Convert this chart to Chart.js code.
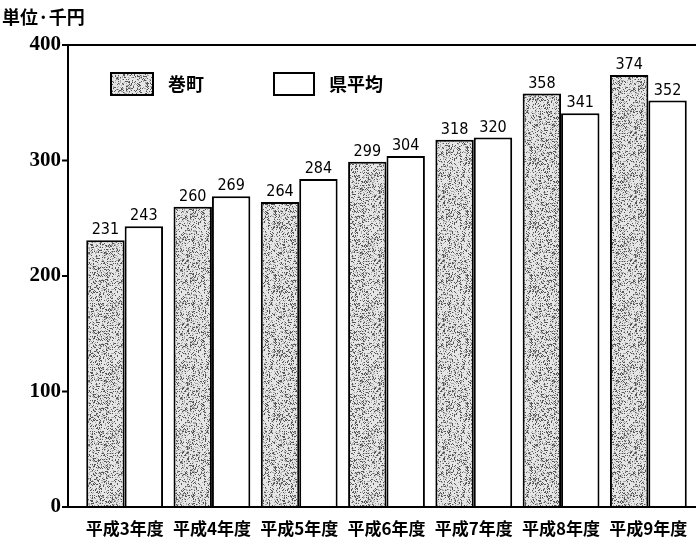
<!DOCTYPE html>
<html>
<head>
<meta charset="utf-8">
<script src="https://cdn.jsdelivr.net/npm/chart.js@4/dist/chart.umd.min.js"></script>
<style>
  body { margin: 0; background: #fff; }
  #wrap { width: 696px; height: 545px; }
</style>
</head>
<body>
<div id="wrap"><canvas id="grafica"></canvas></div>
<script>
const categories = ['平成3年度', '平成4年度', '平成5年度', '平成6年度', '平成7年度', '平成8年度', '平成9年度'];
const makiValues = [231, 260, 264, 299, 318, 358, 374];
const kenValues = [243, 269, 284, 304, 320, 341, 352];
const seriesNames = ['巻町', '県平均'];
const yTicks = [0, 100, 200, 300, 400];
const unitLabel = '単位·千円';

const jpFont = '"Noto Sans CJK JP", sans-serif';
const numFont = '"Liberation Serif", "DejaVu Serif", serif';
const narrowFont = '"DejaVu Sans", sans-serif';

// stipple texture for the 巻町 bars (fixed seed so it is the same every time)
function makeStipple() {
    const c = document.createElement('canvas');
    c.width = 64; c.height = 64;
    const g = c.getContext('2d');
    g.fillStyle = '#e6e6e6';
    g.fillRect(0, 0, 64, 64);
    let s = 12345;
    for (let y = 0; y < 64; y++) {
        for (let x = 0; x < 64; x++) {
            s = (s * 1103515245 + 12345) & 0x7fffffff;
            const r = s / 0x7fffffff;
            if (r < 0.17) { g.fillStyle = '#555'; g.fillRect(x, y, 1, 1); }
            else if (r < 0.33) { g.fillStyle = '#a8a8a8'; g.fillRect(x, y, 1, 1); }
        }
    }
    return g.createPattern(c, 'repeat');
}

const ctx = document.getElementById('grafica').getContext('2d');
const stipple = makeStipple();

// axes frame, unit label, legend and bar values
const decor = {
    id: 'decor',
    afterDraw(chart) {
        const c = chart.ctx;
        const y = chart.scales.y;
        const axisX = 68;
        c.save();
        c.strokeStyle = '#000';
        c.lineWidth = 2;
        c.beginPath();
        c.moveTo(axisX, y.getPixelForValue(400));
        c.lineTo(696, y.getPixelForValue(400));
        c.moveTo(axisX, y.getPixelForValue(400));
        c.lineTo(axisX, y.getPixelForValue(0));
        c.moveTo(62, y.getPixelForValue(0));
        c.lineTo(696, y.getPixelForValue(0));
        yTicks.forEach(v => {
            c.moveTo(62, y.getPixelForValue(v));
            c.lineTo(axisX, y.getPixelForValue(v));
        });
        c.stroke();

        c.fillStyle = '#000';
        c.font = 'bold 18px ' + jpFont;
        c.textAlign = 'left';
        c.textBaseline = 'middle';
        c.fillText(unitLabel, 2, 17);

        // legend
        const boxes = [{ x: 111, w: 42 }, { x: 274, w: 40 }];
        chart.data.datasets.forEach((ds, i) => {
            const b = boxes[i];
            c.fillStyle = ds.backgroundColor;
            c.fillRect(b.x, 73, b.w, 22);
            c.lineWidth = 2;
            c.strokeStyle = '#000';
            c.strokeRect(b.x, 73, b.w, 22);
            c.fillStyle = '#000';
            c.font = 'bold 18px ' + jpFont;
            c.fillText(ds.label, b.x + b.w + 15, 84);
        });

        // values above bars
        c.font = '16px ' + narrowFont;
        c.fontStretch = 'condensed';
        c.textAlign = 'center';
        c.textBaseline = 'bottom';
        chart.data.datasets.forEach((ds, i) => {
            chart.getDatasetMeta(i).data.forEach((bar, j) => {
                c.fillText(ds.data[j], bar.x, bar.y - 2);
            });
        });
        c.restore();
    }
};

new Chart(ctx, {
    type: 'bar',
    data: {
        labels: categories,
        datasets: [{
            label: seriesNames[0],
            data: makiValues,
            backgroundColor: stipple,
            borderColor: '#000',
            borderWidth: 2,
            borderSkipped: 'bottom'
        }, {
            label: seriesNames[1],
            data: kenValues,
            backgroundColor: '#fff',
            borderColor: '#000',
            borderWidth: 2,
            borderSkipped: 'bottom'
        }]
    },
    options: {
        responsive: true,
        maintainAspectRatio: false,
        animation: { duration: 0 },
        layout: { padding: { top: 45, right: 4, bottom: 0, left: 0 } },
        datasets: { bar: { categoryPercentage: 0.88, barPercentage: 1.0 } },
        plugins: {
            legend: { display: false },
            tooltip: { enabled: false }
        },
        scales: {
            x: {
                grid: { display: false },
                border: { display: false },
                afterFit: s => { s.height = 38; },
                ticks: {
                    padding: 3,
                    color: '#000',
                    maxRotation: 0,
                    autoSkip: false,
                    font: { family: jpFont, size: 17, weight: 'bold' }
                }
            },
            y: {
                min: 0,
                max: 400,
                afterFit: s => { s.width = 81; },
                afterBuildTicks: s => { s.ticks = yTicks.map(v => ({ value: v })); },
                grid: { display: false, drawTicks: false },
                border: { display: false },
                ticks: {
                    padding: 20,
                    color: '#000',
                    font: { family: numFont, size: 21, weight: 'bold' }
                }
            }
        }
    },
    plugins: [decor]
});
</script>
</body>
</html>
